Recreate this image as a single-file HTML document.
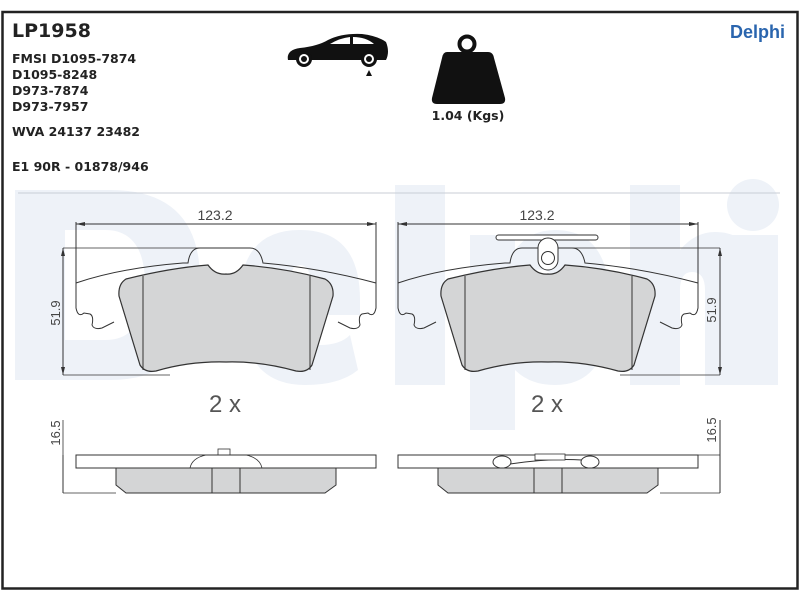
<!DOCTYPE html>
<html><head><meta charset="utf-8"><style>
html,body{margin:0;padding:0;background:#fff;width:800px;height:600px;overflow:hidden}
svg{display:block}
</style></head><body>
<svg width="800" height="600" viewBox="0 0 800 600" xmlns="http://www.w3.org/2000/svg" font-family="Liberation Sans, sans-serif">
<rect x="0" y="0" width="800" height="600" fill="#fff"/>
<rect x="2.5" y="12" width="795" height="576.5" fill="#fff" stroke="#222" stroke-width="2.5"/>
<!-- watermark -->
<g fill="#eef2f8">
<path d="M15 190 H110 Q200 190 200 280 Q200 380 110 380 H15 Z M65 230 V340 H105 Q145 340 145 285 Q145 230 105 230 Z" fill-rule="evenodd"/>
<path d="M240 300 Q240 230 300 230 Q360 230 360 300 V315 H290 Q295 345 320 345 Q340 345 350 335 L358 370 Q340 385 305 385 Q240 385 240 300 Z M290 285 H312 Q310 265 300 265 Q290 265 290 285 Z" fill-rule="evenodd"/>
<rect x="395" y="185" width="50" height="200"/>
<path d="M470 235 H515 V250 Q530 230 555 230 Q610 230 610 305 Q610 385 555 385 Q530 385 515 370 V430 H470 Z M515 280 V340 Q530 350 545 345 Q560 335 560 305 Q560 275 545 270 Q528 268 515 280 Z" fill-rule="evenodd"/>
<path d="M630 185 H680 V250 Q695 232 715 232 Q755 232 755 280 V385 H705 V290 Q705 272 692 272 Q680 272 680 290 V385 H630 Z"/>
<rect x="728" y="235" width="50" height="150"/>
<circle cx="753" cy="205" r="26"/>
</g>
<line x1="18" y1="193" x2="780" y2="193" stroke="#c8cdd6" stroke-width="1"/>
<!-- header text -->
<g font-weight="bold" fill="#222" font-family="DejaVu Sans, sans-serif">
<text x="12" y="37" font-size="19">LP1958</text>
<text x="12" y="63" font-size="12.5">FMSI D1095-7874</text>
<text x="12" y="79" font-size="12.5">D1095-8248</text>
<text x="12" y="95" font-size="12.5">D973-7874</text>
<text x="12" y="111" font-size="12.5">D973-7957</text>
<text x="12" y="136" font-size="12.5">WVA 24137 23482</text>
<text x="12" y="171" font-size="12.5">E1 90R - 01878/946</text>
<text x="468" y="120" font-size="12.5" text-anchor="middle">1.04 (Kgs)</text>
</g>
<text x="785" y="38" font-size="18" font-weight="bold" fill="#2a65ae" text-anchor="end">Delphi</text>
<!-- car -->
<g fill="#111">
<path d="M288 60 Q286 50 300 48 Q318 46 328 40 Q342 33 362 34 Q378 36 386 42 Q390 52 386 60 Z"/>
<circle cx="304" cy="59" r="8" fill="#111"/><circle cx="304" cy="59" r="5" fill="#fff"/><circle cx="304" cy="59" r="3" fill="#111"/>
<circle cx="369" cy="59" r="8" fill="#111"/><circle cx="369" cy="59" r="5" fill="#fff"/><circle cx="369" cy="59" r="3" fill="#111"/>
<path d="M366 76 L369 70 L372 76 Z"/>
</g>
<path d="M330 44 Q340 38 350 37 L350 44 Z M353 37 Q366 37 374 44 L353 44 Z" fill="#fff"/>
<!-- weight -->
<g fill="#111">
<circle cx="467" cy="44" r="7.5" fill="none" stroke="#111" stroke-width="4"/>
<path d="M447 52 H488 Q493 52 494 58 L505 98 Q506 104 500 104 H437 Q431 104 432 98 L442 58 Q443 52 447 52 Z"/>
</g>
<!-- pads -->
<defs>
<g id="pad">
<path d="M76 283 Q120 268 183 263 L188 263 Q190 248 200 248 L250 248 Q260 248 263 263 Q320 268 376 283 L376 308 Q374 318 368 313 L362 314 Q358 316 360 325 Q358 330 350 328 L338 322" fill="none" stroke="#333" stroke-width="1"/>
<path d="M76 283 L76 308 Q78 318 84 313 L90 314 Q94 316 92 325 Q94 330 102 328 L114 322" fill="none" stroke="#333" stroke-width="1"/>
<path d="M126 279 Q170 268 208 265 Q215 275 226 274 Q236 275 243 265 Q285 268 325 279 Q334 284 333 296 L312 365 Q307 373 296 371 Q260 361 226 362 Q190 361 156 371 Q145 373 140 365 L119 296 Q118 284 126 279 Z" fill="#d4d5d6" stroke="#333" stroke-width="1.2"/>
<line x1="143" y1="276" x2="143" y2="370" stroke="#333"/>
<line x1="310" y1="276" x2="310" y2="370" stroke="#333"/>
<line x1="76" y1="224" x2="376" y2="224" stroke="#333"/>
<path d="M76 224 l9 -2 v4 z M376 224 l-9 -2 v4 z" fill="#333"/>
<line x1="76" y1="222" x2="76" y2="284" stroke="#333"/>
<line x1="376" y1="222" x2="376" y2="284" stroke="#333"/>
<text x="215" y="220" font-size="14" text-anchor="middle" fill="#444">123.2</text>
<text x="225" y="412" font-size="24" text-anchor="middle" fill="#555">2 x</text>
<rect x="76" y="455" width="300" height="13" fill="#fff" stroke="#333"/>
<path d="M116 468 H336 V485 L325 493 H126 L116 485 Z" fill="#d4d5d6" stroke="#333"/>
<line x1="212" y1="468" x2="212" y2="493" stroke="#333"/>
<line x1="240" y1="468" x2="240" y2="493" stroke="#333"/>
</g>
</defs>
<use href="#pad"/>
<use href="#pad" transform="translate(322,0)"/>
<!-- left extras -->
<line x1="63" y1="248" x2="250" y2="248" stroke="#333" stroke-width="0.8"/>
<line x1="63" y1="375" x2="170" y2="375" stroke="#333" stroke-width="0.8"/>
<line x1="63" y1="248" x2="63" y2="375" stroke="#333"/>
<path d="M63 248 l-2 8 h4 z M63 375 l-2 -8 h4 z" fill="#333"/>
<text transform="translate(60,313) rotate(-90)" font-size="13" text-anchor="middle" fill="#444">51.9</text>
<line x1="63" y1="455" x2="63" y2="493" stroke="#333"/>
<line x1="63" y1="420" x2="63" y2="455" stroke="#333" stroke-width="0.8"/>
<line x1="63" y1="493" x2="116" y2="493" stroke="#333" stroke-width="0.8"/>
<text transform="translate(60,433) rotate(-90)" font-size="13" text-anchor="middle" fill="#444">16.5</text>
<rect x="218" y="449" width="12" height="6" fill="#fff" stroke="#333" stroke-width="0.8"/>
<path d="M190 468 Q192 458 206 455 H246 Q260 458 262 468" fill="none" stroke="#333" stroke-width="0.8"/>
<!-- right extras -->
<line x1="570" y1="248" x2="720" y2="248" stroke="#333" stroke-width="0.8"/>
<line x1="620" y1="375" x2="720" y2="375" stroke="#333" stroke-width="0.8"/>
<line x1="720" y1="248" x2="720" y2="375" stroke="#333"/>
<path d="M720 248 l-2 8 h4 z M720 375 l-2 -8 h4 z" fill="#333"/>
<text transform="translate(716,310) rotate(-90)" font-size="13" text-anchor="middle" fill="#444">51.9</text>
<line x1="720" y1="420" x2="720" y2="493" stroke="#333"/>
<line x1="698" y1="455" x2="720" y2="455" stroke="#333" stroke-width="0.8"/>
<line x1="660" y1="493" x2="720" y2="493" stroke="#333" stroke-width="0.8"/>
<text transform="translate(716,430) rotate(-90)" font-size="13" text-anchor="middle" fill="#444">16.5</text>
<rect x="496" y="235" width="102" height="5" rx="2.5" fill="#fff" stroke="#333"/>
<rect x="538" y="238" width="20" height="32" rx="10" fill="#fff" stroke="#333"/>
<circle cx="548" cy="258" r="6.5" fill="#fff" stroke="#333"/>
<path d="M510 464 Q550 458 582 460" fill="none" stroke="#333"/>
<ellipse cx="502" cy="462" rx="9" ry="6" fill="#fff" stroke="#333"/>
<ellipse cx="590" cy="462" rx="9" ry="6" fill="#fff" stroke="#333"/>
<rect x="535" y="454" width="30" height="6" fill="#fff" stroke="#333" stroke-width="0.8"/>
</svg>
</body></html>
